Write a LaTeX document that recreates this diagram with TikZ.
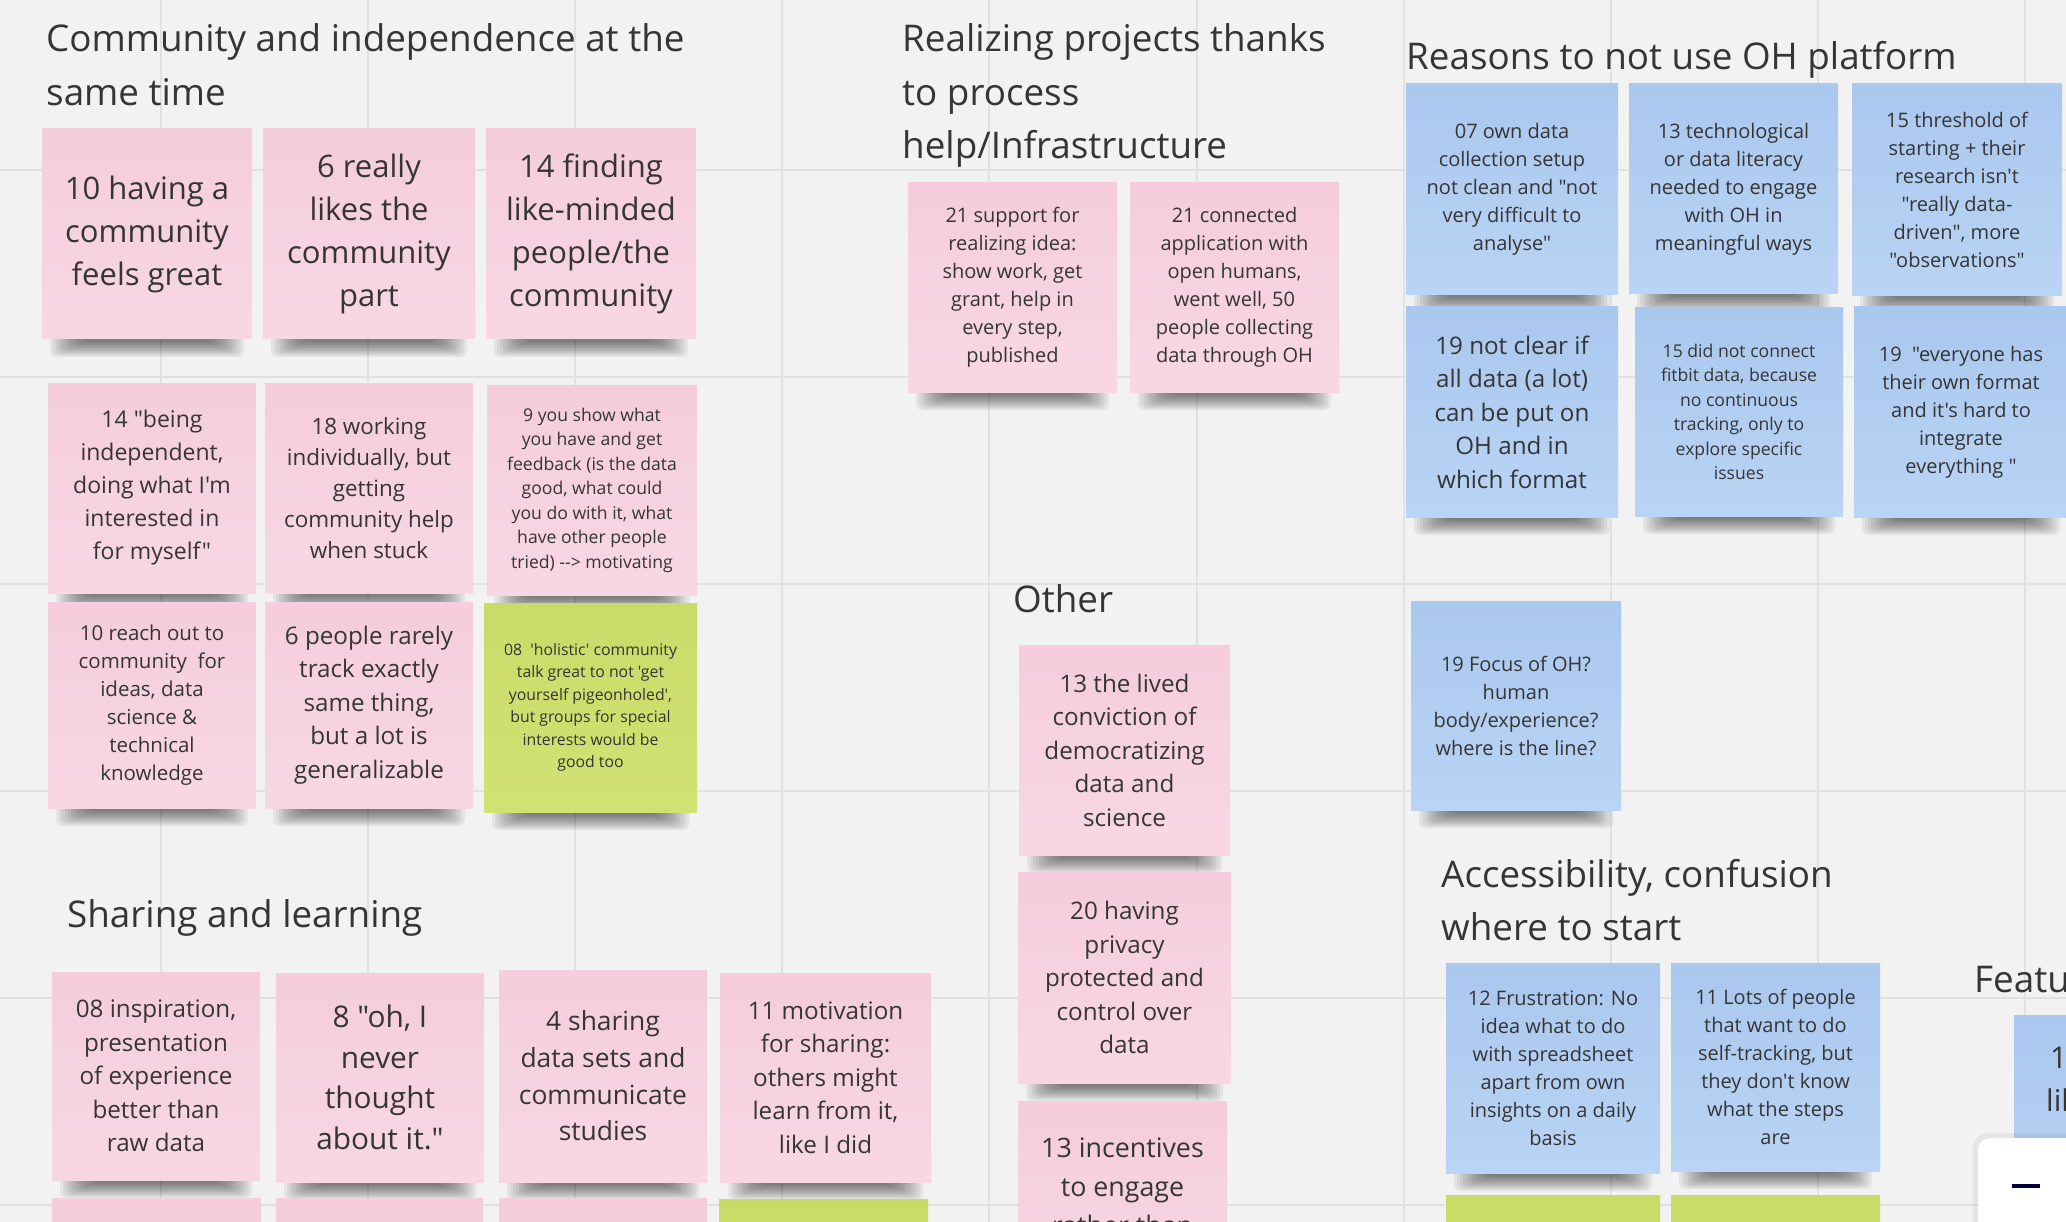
\documentclass[tikz,border=0pt]{standalone}
\usepackage{fontspec}
\setmainfont{Open Sans}[Ligatures=TeXOff]
\definecolor{bgc}{HTML}{F2F2F2}
\definecolor{gridc}{HTML}{E1E1E1}
\definecolor{pinkA}{HTML}{F5CDDC}
\definecolor{pinkB}{HTML}{F8D7E3}
\definecolor{blueA}{HTML}{AAC7EE}
\definecolor{blueB}{HTML}{B9D4F4}
\definecolor{greenA}{HTML}{C9DB67}
\definecolor{greenB}{HTML}{D1E274}
\definecolor{txt}{HTML}{353535}
\definecolor{navy}{HTML}{050038}
\tikzset{
  gridline/.style={gridc, line width=2pt},
  title/.style={anchor=base west, inner sep=0pt, text=txt, font=\fontsize{36.8}{54}\selectfont},
  partial/.style={anchor=base west, inner sep=0pt, text=txt, font=\fontsize{30}{42}\selectfont},
  card/.style={draw=none, inner sep=0pt, align=center, text=txt},
  pinkcard/.style={top color=pinkA, bottom color=pinkB},
  bluecard/.style={top color=blueA, bottom color=blueB},
  greencard/.style={top color=greenA, bottom color=greenB},
  fs31/.style={font=\fontsize{31}{43}\selectfont},
  fs30/.style={font=\fontsize{29.8}{40.5}\selectfont},
  fs27/.style={font=\fontsize{26.8}{39}\selectfont},
  fs26/.style={font=\fontsize{26.4}{36.7}\selectfont},
  fs24/.style={font=\fontsize{24.2}{33.5}\selectfont},
  fs23/.style={font=\fontsize{23}{33}\selectfont},
  fs22/.style={font=\fontsize{22.4}{31}\selectfont},
  fs20b/.style={font=\fontsize{20.5}{28}\selectfont},
  fs20/.style={font=\fontsize{20}{28}\selectfont},
  fs17/.style={font=\fontsize{17.6}{24.5}\selectfont},
  fs16/.style={font=\fontsize{15.8}{22.5}\selectfont},
}
\newcommand{\stickynote}[7]{%
  \pgfmathsetmacro{\stkw}{#4-#2}%
  \pgfmathsetmacro{\stkh}{#5-#3}%
  \pgfmathsetmacro{\stkx}{(#2+#4)/2}%
  \pgfmathsetmacro{\stky}{(#3+#5)/2}%
  \foreach \ins/\dep in {8/18,11/16.5,14/15,17/13.5,20/12,23/10.5,26/9,29/7.5,32/6,36/4.5,40/3}{%
    \fill[black,opacity=0.055,rounded corners=6pt] (#2+\ins,#5-8) rectangle (#4-\ins,#5+\dep);}%
  \node[card,#6,minimum width=\stkw pt,minimum height=\stkh pt] (#1) at (\stkx,\stky) {#7};%
}
\begin{document}
\begin{tikzpicture}[x=1pt,y=-1pt]
\useasboundingbox (0,0) rectangle (2066,1222);
\clip (0,0) rectangle (2066,1222);
\fill[bgc] (0,0) rectangle (2066,1222);
\foreach \gx in {161,368,575,782,989,1197,1404,1611,1818,2025}
  \draw[gridline] (\gx,0) -- (\gx,1222);
\foreach \gy in {170,377,584,791,998,1205}
  \draw[gridline] (0,\gy) -- (2066,\gy);

% titles
\node[title] (t1a) at (46,52) {Community and independence at the};
\node[title] (t1b) at (46,106) {same time};
\node[title] (t2a) at (902,52) {Realizing projects thanks};
\node[title] (t2b) at (902,106) {to process};
\node[title] (t2c) at (902,159) {help/Infrastructure};
\node[title] (t3) at (1406,70) {Reasons to not use OH platform};
\node[title] (t4) at (1013,612) {Other};
\node[title] (t5a) at (1441,887) {Accessibility, confusion};
\node[title] (t5b) at (1441,940) {where to start};
\node[title] (t6) at (67,927) {Sharing and learning};
\node[title] (t7) at (1974,992) {Featu};

% community and independence
\stickynote{c1}{42}{129}{252}{339}{pinkcard,fs31}{10 having a\\community\\feels great}
\stickynote{c2}{263}{129}{475}{339}{pinkcard,fs31}{6 really\\likes the\\community\\part}
\stickynote{c3}{486}{129}{696}{339}{pinkcard,fs31}{14 finding\\like-minded\\people/the\\community}
\stickynote{c4}{48}{383}{256}{593}{pinkcard,fs23}{14 "being\\independent,\\doing what I'm\\interested in\\for myself"}
\stickynote{c5}{265}{383}{473}{593}{pinkcard,fs22}{18 working\\individually, but\\getting\\community help\\when stuck}
\stickynote{c6}{487}{385}{697}{595}{pinkcard,fs17}{9 you show what\\you have and get\\feedback (is the data\\good, what could\\you do with it, what\\have other people\\tried) --> motivating}
\stickynote{c7}{48}{602}{256}{808}{pinkcard,fs20b}{10 reach out to\\community~ for\\ideas, data\\science \&\\technical\\knowledge}
\stickynote{c8}{265}{602}{473}{808}{pinkcard,fs24}{6 people rarely\\track exactly\\same thing,\\but a lot is\\generalizable}
\stickynote{c9}{484}{603}{697}{812}{greencard,fs16}{08~ 'holistic' community\\talk great to not 'get\\yourself pigeonholed',\\but groups for special\\interests would be\\good too}

% realizing projects
\stickynote{r1}{908}{183}{1117}{392}{pinkcard,fs20}{21 support for\\realizing idea:\\show work, get\\grant, help in\\every step,\\published}
\stickynote{r2}{1130}{183}{1339}{392}{pinkcard,fs20}{21 connected\\application with\\open humans,\\went well, 50\\people collecting\\data through OH}

% reasons
\stickynote{b1}{1406}{84}{1618}{295}{bluecard,fs20}{07 own data\\collection setup\\not clean and "not\\very difficult to\\analyse"}
\stickynote{b2}{1629}{84}{1838}{294}{bluecard,fs20}{13 technological\\or data literacy\\needed to engage\\with OH in\\meaningful ways}
\stickynote{b3}{1852}{84}{2062}{296}{bluecard,fs20}{15 threshold of\\starting + their\\research isn't\\"really data-\\driven", more\\"observations"}
\stickynote{b4}{1406}{307}{1618}{517}{bluecard,fs24}{19 not clear if\\all data (a lot)\\can be put on\\OH and in\\which format}
\stickynote{b5}{1635}{308}{1843}{516}{bluecard,fs17}{15 did not connect\\fitbit data, because\\no continuous\\tracking, only to\\explore specific\\issues}
\stickynote{b6}{1854}{307}{2068}{517}{bluecard,fs20}{19~ "everyone has\\their own format\\and it's hard to\\integrate\\everything "}
\stickynote{b7}{1411}{601}{1621}{810}{bluecard,fs20}{19 Focus of OH?\\human\\body/experience?\\where is the line?}

% other
\stickynote{o1}{1019}{645}{1230}{855}{pinkcard,fs24}{13 the lived\\conviction of\\democratizing\\data and\\science}
\stickynote{o2}{1018}{872}{1231}{1083}{pinkcard,fs24}{20 having\\privacy\\protected and\\control over\\data}
\stickynote{o3}{1018}{1101}{1227}{1311}{pinkcard,fs27}{13 incentives\\to engage\\rather than\\\phantom{x}}

% accessibility
\stickynote{a1}{1446}{963}{1660}{1173}{bluecard,fs20}{12 Frustration: No\\idea what to do\\with spreadsheet\\apart from own\\insights on a daily\\basis}
\stickynote{a2}{1671}{963}{1880}{1171}{bluecard,fs20}{11 Lots of people\\that want to do\\self-tracking, but\\they don't know\\what the steps\\are}
\stickynote{a3}{1446}{1195}{1660}{1405}{greencard}{}
\stickynote{a4}{1671}{1195}{1880}{1405}{greencard}{}

% sharing and learning
\stickynote{s1}{52}{972}{260}{1180}{pinkcard,fs24}{08 inspiration,\\presentation\\of experience\\better than\\raw data}
\stickynote{s2}{276}{973}{484}{1182}{pinkcard,fs30}{8 "oh, I\\never\\thought\\about it."}
\stickynote{s3}{499}{970}{707}{1182}{pinkcard,fs26}{4 sharing\\data sets and\\communicate\\studies}
\stickynote{s4}{720}{973}{931}{1182}{pinkcard,fs24}{11 motivation\\for sharing:\\others might\\learn from it,\\like I did}
\stickynote{s5}{52}{1198}{261}{1408}{pinkcard}{}
\stickynote{s6}{276}{1198}{483}{1408}{pinkcard}{}
\stickynote{s7}{499}{1198}{707}{1408}{pinkcard}{}
\stickynote{s8}{719}{1199}{928}{1408}{greencard}{}

% features (cut off)
\stickynote{f1}{2014}{1015}{2224}{1225}{bluecard}{}
\node[partial] (f1a) at (2050,1068) {1};
\node[partial] (f1b) at (2046,1111) {lik};

% zoom control
\fill[black,opacity=0.05,rounded corners=14pt] (1973,1133) rectangle (2100,1260);
\fill[white,rounded corners=12pt] (1978,1138) rectangle (2100,1260);
\draw[navy,line width=4pt] (2012,1186) -- (2040,1186);
\end{tikzpicture}
\end{document}
